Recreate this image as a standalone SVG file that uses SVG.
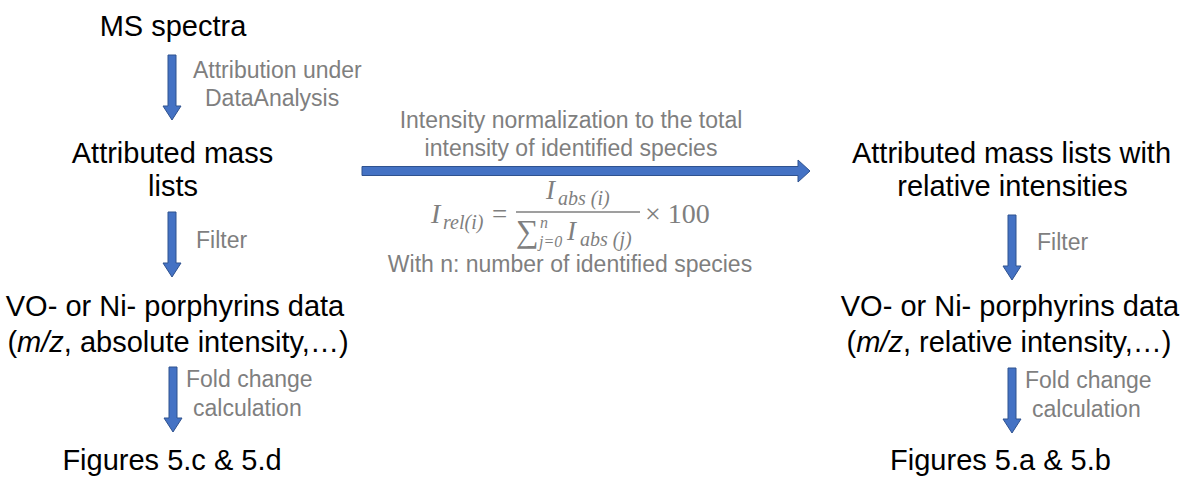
<svg xmlns="http://www.w3.org/2000/svg" xmlns:xlink="http://www.w3.org/1999/xlink" width="1184" height="481" viewBox="0 0 1184 481">
<style>
.t{font-family:"Liberation Sans",Arial,sans-serif;font-size:29px;fill:#000;text-anchor:middle}
.l{font-family:"Liberation Sans",Arial,sans-serif;font-size:23px;fill:#7f7f7f}
.lc{font-family:"Liberation Sans",Arial,sans-serif;font-size:23px;fill:#7f7f7f;text-anchor:middle}
.m{font-family:"Liberation Serif","Times New Roman",serif;fill:#7f7f7f;font-style:italic}
.mu{font-family:"Liberation Serif","Times New Roman",serif;fill:#7f7f7f}
.arr{fill:#4472c4;stroke:#2f528f;stroke-width:1}
</style>
<defs>
<path id="down" d="M-4,0 H4 V51 H9 L0,65 L-9,51 H-4 Z"/>
</defs>
<g id="connectors">
<use xlink:href="#down" href="#down" class="arr" x="172" y="55"/>
<use xlink:href="#down" href="#down" class="arr" x="172" y="212"/>
<use xlink:href="#down" href="#down" class="arr" x="173" y="367"/>
<use xlink:href="#down" href="#down" class="arr" x="1012" y="215"/>
<use xlink:href="#down" href="#down" class="arr" x="1012" y="368"/>
<path class="arr" d="M362,166.5 H798 V160 L810,171 L798,182 V175.5 H362 Z"/>
</g>
<g id="labels">
<text class="l" x="193" y="78">Attribution under</text>
<text class="l" x="205" y="106">DataAnalysis</text>
<text class="l" x="196" y="248">Filter</text>
<text class="l" x="186" y="387">Fold change</text>
<text class="l" x="193" y="416">calculation</text>
<text class="l" x="1037" y="250">Filter</text>
<text class="l" x="1025" y="388">Fold change</text>
<text class="l" x="1032" y="417">calculation</text>
<text class="lc" x="571" y="128">Intensity normalization to the total</text>
<text class="lc" x="571" y="156">intensity of identified species</text>
<text class="lc" x="570" y="272">With n: number of identified species</text>
</g>
<g id="formula">
<text class="m" x="431" y="223" font-size="28">I</text>
<text class="m" x="443" y="229" font-size="20">rel(i)</text>
<text class="mu" x="492" y="223" font-size="27">=</text>
<line x1="516" y1="212" x2="640" y2="212" stroke="#7f7f7f" stroke-width="1.3"/>
<text class="m" x="546" y="199" font-size="27">I</text>
<text class="m" x="558" y="205" font-size="20">abs (i)</text>
<text class="mu" x="516" y="242" font-size="32">∑</text>
<text class="m" x="540" y="228" font-size="16">n</text>
<text class="m" x="539" y="247" font-size="16">j=0</text>
<text class="m" x="567" y="240" font-size="27">I</text>
<text class="m" x="580" y="246" font-size="20">abs (j)</text>
<text class="mu" x="645" y="223" font-size="28">× 100</text>
</g>
<g id="n-ms"><text class="t" x="173" y="36">MS spectra</text></g>
<g id="n-attr"><text class="t" x="172.5" y="163">Attributed mass</text><text class="t" x="173" y="196">lists</text></g>
<g id="n-vo-abs"><text class="t" x="175" y="316">VO- or Ni- porphyrins data</text><text class="t" x="178" y="352">(<tspan font-style="italic">m/z</tspan>, absolute intensity,…)</text></g>
<g id="n-fig-cd"><text class="t" x="172" y="470">Figures 5.c &amp; 5.d</text></g>
<g id="n-attr-rel"><text class="t" x="1011.5" y="163">Attributed mass lists with</text><text class="t" x="1012.5" y="196">relative intensities</text></g>
<g id="n-vo-rel"><text class="t" x="1010" y="316">VO- or Ni- porphyrins data</text><text class="t" x="1009" y="352">(<tspan font-style="italic">m/z</tspan>, relative intensity,…)</text></g>
<g id="n-fig-ab"><text class="t" x="1000.5" y="470">Figures 5.a &amp; 5.b</text></g>
</svg>
